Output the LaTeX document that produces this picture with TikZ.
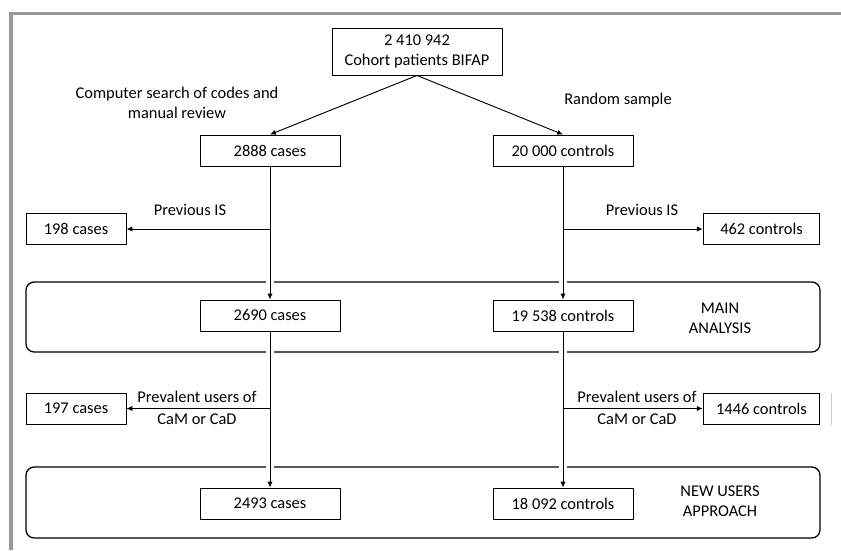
\documentclass[tikz,border=0pt]{standalone}
\usepackage{fontspec}
\setmainfont{Carlito}
\usetikzlibrary{arrows.meta}

\begin{document}
\begin{tikzpicture}[
  x=0.03cm, y=-0.03cm,
  font=\fontsize{14}{17}\selectfont,
  box/.style={draw, line width=.8pt, align=center, inner sep=2pt,
              minimum width=4.2cm, minimum height=0.93cm},
  narrowbox/.style={box, minimum width=3cm},
  widebox/.style={box, minimum width=3.5cm},
  stage/.style={draw, line width=1.1pt, rounded corners=7pt,
                minimum width=23.82cm, minimum height=2.1cm},
  note/.style={align=center, inner sep=0pt},
  twoline/.style={note, font=\fontsize{14}{19}\selectfont},
  line/.style={draw, line width=.8pt, -{Latex[length=5pt,width=4.5pt]}},
  halo/.style={draw=white, line width=7pt, shorten <=6pt, shorten >=6pt},
  pageframe/.style={draw=black!40, line width=2.6pt}
]
\useasboundingbox (0,0) rectangle (841,550);

% page frame
\draw[pageframe] (11,550) -- (11,13.5) -- (841,13.5);
\draw[black!20, line width=.6pt] (831,393) -- (831,425);

% analysis stages
\node[stage] (mainstage) at (423,317) {};
\node[stage, minimum height=2.13cm] (newstage) at (423,502.5) {};

% cohort and samples
\node[box, minimum width=5.1cm, minimum height=1.41cm] (total) at (417,51.5)
  {2 410 942\\Cohort patients BIFAP};
\node[box] (cases) at (270,150.5) {2888 cases};
\node[box] (controls) at (563,150.5) {20 000 controls};

% exclusions
\node[narrowbox] (excases) at (76,229) {198 cases};
\node[widebox] (excontrols) at (761.5,229) {462 controls};
\node[narrowbox] (prevcases) at (76,408.5) {197 cases};
\node[widebox] (prevcontrols) at (761.5,408.5) {1446 controls};

% main analysis and new users
\node[box] (maincases) at (270,315.5) {2690 cases};
\node[box] (maincontrols) at (563,315.5) {19 538 controls};
\node[box] (newcases) at (270,503.5) {2493 cases};
\node[box] (newcontrols) at (563,503.5) {18 092 controls};

% labels
\node[note] (searchlbl) at (177,102.5) {Computer search of codes and\\manual review};
\node[note] (randomlbl) at (618,100) {Random sample};
\node[note] (isleft) at (190,210) {Previous IS};
\node[note] (isright) at (642,210) {Previous IS};
\node[twoline] (prevleft) at (197,408) {Prevalent users of\\CaM or CaD};
\node[twoline] (prevright) at (637,408) {Prevalent users of\\CaM or CaD};
\node[note] (mainlbl) at (720,318) {MAIN\\ANALYSIS};
\node[note] (newlbl) at (720,501) {NEW USERS\\APPROACH};

% white gaps where the flow crosses the stage frames
\foreach \a/\b in {cases/maincases, controls/maincontrols,
                   maincases/newcases, maincontrols/newcontrols}
  \draw[halo] (\a.south) -- (\b.north);

% flow
\foreach \a/\b in {total/cases, total/controls,
                   cases/maincases, controls/maincontrols,
                   maincases/newcases, maincontrols/newcontrols}
  \draw[line] (\a.south) -- (\b.north);
\draw[line] (cases.south |- excases.east) -- (excases.east);
\draw[line] (controls.south |- excontrols.west) -- (excontrols.west);
\draw[line] (maincases.south |- prevcases.east) -- (prevcases.east);
\draw[line] (maincontrols.south |- prevcontrols.west) -- (prevcontrols.west);
\end{tikzpicture}
\end{document}
